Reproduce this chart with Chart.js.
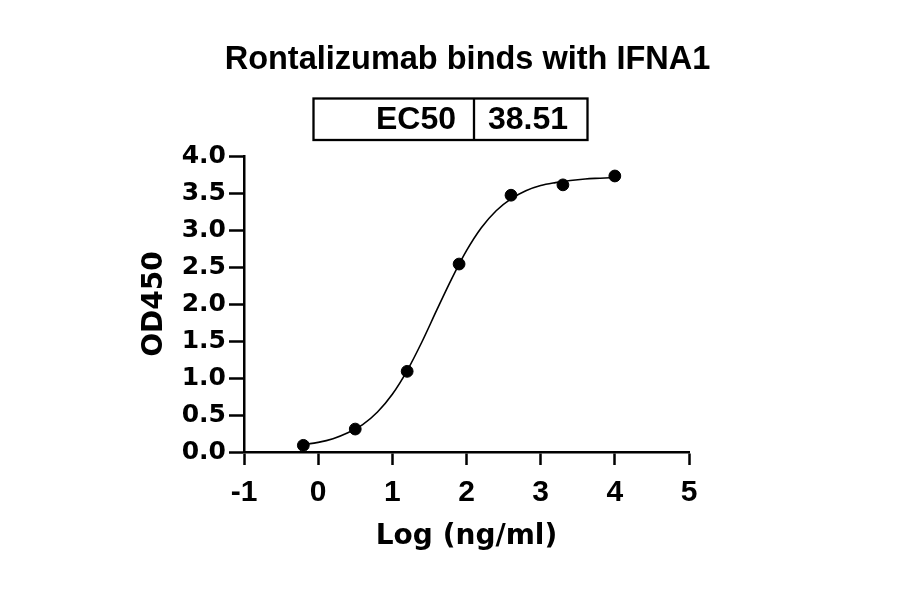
<!DOCTYPE html>
<html>
<head>
<meta charset="utf-8">
<script src="https://cdn.jsdelivr.net/npm/chart.js@4"></script>
<style>
  html, body { margin: 0; padding: 0; background: #fff; }
  #wrap { width: 900px; height: 594px; }
</style>
</head>
<body>
<div id="wrap"><canvas id="myChart" width="900" height="594"></canvas></div>
<script>
// measured points (log concentration vs OD450)
const logConc = [-0.2, 0.5, 1.2, 1.9, 2.6, 3.3, 4.0];
const od450 = [0.09, 0.31, 1.09, 2.54, 3.47, 3.61, 3.73];

// fitted curve
const fitX = [-0.2, 0, 0.2, 0.4, 0.6, 0.8, 1.0, 1.2, 1.4, 1.6, 1.8, 2.0, 2.2, 2.4, 2.6, 2.8, 3.0, 3.2, 3.4, 3.6, 3.8, 4.0];
const fitY = [0.10, 0.13, 0.18, 0.26, 0.37, 0.54, 0.78, 1.10, 1.49, 1.92, 2.34, 2.72, 3.03, 3.26, 3.42, 3.53, 3.60, 3.64, 3.67, 3.69, 3.70, 3.71];

const xTicks = [-1, 0, 1, 2, 3, 4, 5];
const yTicks = [0, 0.5, 1, 1.5, 2, 2.5, 3, 3.5, 4];

const chartTitle = "Rontalizumab binds with IFNA1";
const ec50Label = "EC50";
const ec50Value = "38.51";

const wideFont = "'DejaVu Sans', sans-serif";
const headFont = "'Liberation Sans', Arial, sans-serif";

let points = [];
for (let i = 0; i < logConc.length; i++) {
  points.push({ x: logConc[i], y: od450[i] });
}
let curve = [];
for (let i = 0; i < fitX.length; i++) {
  curve.push({ x: fitX[i], y: fitY[i] });
}

const headerPlugin = {
  id: "header",
  afterDraw(chart) {
    const ctx = chart.ctx;
    const area = chart.chartArea;
    const cx = (area.left + area.right) / 2;
    ctx.save();
    ctx.fillStyle = "#000";
    ctx.font = "bold 32.5px " + headFont;
    ctx.textAlign = "center";
    ctx.textBaseline = "alphabetic";
    ctx.fillText(chartTitle, cx + 1, 69);

    // EC50 table
    ctx.strokeStyle = "#000";
    ctx.lineWidth = 2.3;
    ctx.strokeRect(313.5, 98.5, 274, 41.5);
    ctx.beginPath();
    ctx.moveTo(474, 98.5);
    ctx.lineTo(474, 140);
    ctx.stroke();
    ctx.font = "bold 32px " + headFont;
    ctx.textAlign = "right";
    ctx.fillText(ec50Label, 456, 129);
    ctx.textAlign = "left";
    ctx.fillText(ec50Value, 488, 129);
    ctx.restore();
  },
};

new Chart("myChart", {
  type: "scatter",
  data: {
    datasets: [
      {
        label: "OD450",
        data: points,
        backgroundColor: "#000",
        borderColor: "#000",
        pointRadius: 5.9,
        pointHoverRadius: 5.9,
        showLine: false,
      },
      {
        label: "fit",
        data: curve,
        borderColor: "#000",
        borderWidth: 1.6,
        pointRadius: 0,
        showLine: true,
        cubicInterpolationMode: "monotone",
      },
    ],
  },
  options: {
    responsive: false,
    animation: false,
    layout: {
      padding: { left: 124, right: 211, top: 156, bottom: 0 },
    },
    plugins: {
      legend: { display: false },
      tooltip: { enabled: false },
    },
    scales: {
      x: {
        type: "linear",
        min: -1,
        max: 5,
        afterBuildTicks: (s) => {
          s.ticks = xTicks.map((v) => ({ value: v }));
        },
        afterFit: (s) => {
          s.height = 142;
        },
        grid: {
          drawOnChartArea: false,
          drawTicks: true,
          tickLength: 13,
          tickWidth: 2.5,
          color: "#000",
        },
        border: { display: true, color: "#000", width: 2.5 },
        ticks: {
          color: "#000",
          padding: 10,
          font: { family: headFont, size: 30, weight: "bold" },
        },
        title: {
          display: true,
          text: "Log (ng/ml)",
          color: "#000",
          padding: { top: 0, bottom: 40 },
          font: { family: wideFont, size: 28, weight: "bold" },
        },
      },
      y: {
        type: "linear",
        min: 0,
        max: 4,
        afterBuildTicks: (s) => {
          s.ticks = yTicks.map((v) => ({ value: v }));
        },
        afterFit: (s) => {
          s.width = 120;
        },
        grid: {
          drawOnChartArea: false,
          drawTicks: true,
          tickLength: 15,
          tickWidth: 2.5,
          color: "#000",
        },
        border: { display: true, color: "#000", width: 2.5 },
        ticks: {
          color: "#000",
          padding: 3,
          font: { family: wideFont, size: 25, weight: "bold" },
          callback: (v) => Number(v).toFixed(1),
        },
        title: {
          display: true,
          text: "OD450",
          color: "#000",
          padding: { top: 14, bottom: 0 },
          font: { family: wideFont, size: 28, weight: "bold" },
        },
      },
    },
  },
  plugins: [headerPlugin],
});
</script>
</body>
</html>
